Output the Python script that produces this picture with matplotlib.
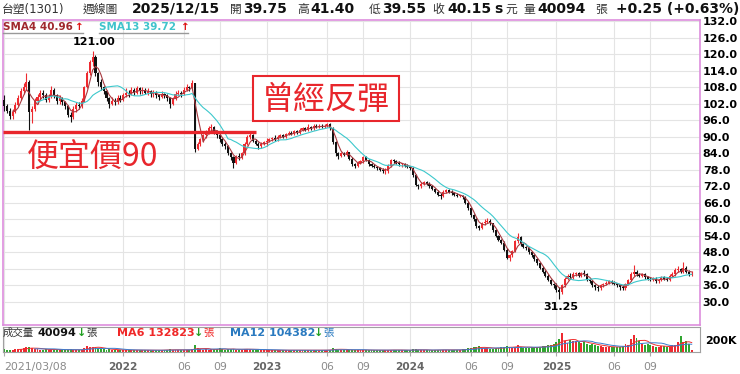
import matplotlib
matplotlib.use("Agg")
import matplotlib.pyplot as plt
import numpy as np
import pandas as pd
from matplotlib.lines import Line2D
from matplotlib.patches import Rectangle

plt.rcParams['font.family'] = ['DejaVu Sans', 'Noto Sans CJK TC']

# weekly candles, 2021/03/08 .. 2025/12/15 (one value per week)
opens = [103.5, 101, 99.5, 97.5, 99, 101.5, 104, 106.5, 108, 110,
         99, 100, 103, 104.5, 106, 105, 103.5, 104.5, 107, 105,
         103, 104, 102.5, 101, 98, 97, 100, 101.5, 101, 103,
         108, 113, 117, 119, 113, 110, 108, 106.5, 104, 102,
         103, 102.5, 104, 103.5, 105, 106, 105.5, 107, 106, 107.5,
         106.5, 107, 106, 106.5, 105.5, 106, 105, 104.5, 105.5, 105,
         104, 102, 104, 105.5, 106, 105.5, 107, 108, 107.5, 109.5,
         85.5, 87.5, 89, 90.5, 92, 93, 93.5, 91.5, 90.5, 89,
         87.5, 86.5, 84, 82.5, 80.5, 83, 82.5, 84, 87.5, 90,
         90.5, 88.5, 87.5, 86.5, 87.5, 88, 88.5, 89, 89.5, 89,
         90, 90.5, 90, 91, 91.5, 91, 92, 91.5, 92.5, 93,
         92.5, 93.5, 93, 94, 93.5, 94, 93.5, 94, 94.5, 93,
         88, 84, 83, 84, 83.5, 84.5, 82, 80, 79.5, 80.5,
         81, 82.5, 81.5, 80, 79.5, 79, 78.5, 78, 77.5, 77.5,
         79.5, 81.5, 81, 80.5, 80, 80, 79.5, 79, 78.5, 76,
         72.5, 72, 73, 73.5, 73, 72, 71, 70, 69, 68.5,
         70, 70.5, 70, 69.5, 69, 68.5, 68.5, 68, 66, 64,
         61.5, 60, 57.5, 57, 58.5, 59, 59.5, 58.5, 56, 54,
         52.5, 51.5, 49, 46, 47, 48.5, 52, 53.5, 51, 50,
         49.5, 48, 47, 45.5, 44, 42.5, 41, 39.5, 38, 36.5,
         36, 34.5, 33.5, 36, 38.5, 39.5, 39, 40, 40.5, 39.5,
         40.5, 40, 38, 37.5, 36, 35.5, 35, 36, 36.5, 37,
         37.5, 37, 36.5, 36, 35.5, 35, 36.5, 38, 40, 41,
         40, 39.5, 40, 39, 38.5, 38, 38.5, 37.5, 38, 39,
         38.5, 38, 39.5, 40, 41.5, 42, 41, 42.5, 41, 39.75]
highs = [105, 102, 100.5, 100, 102.5, 105, 107.5, 109.5, 113, 110.5,
         101, 104, 105.5, 107, 107, 106, 105.5, 108.5, 107.5, 105.5,
         105, 104.5, 103, 101.5, 99, 101, 102.5, 102.5, 104, 108.5,
         114, 118, 121, 119.5, 113.5, 111, 108.5, 107, 104.5, 104.5,
         104, 105, 105, 106, 107.5, 107, 108, 107.5, 108.5, 108,
         108, 107.5, 107.5, 107, 107, 106.5, 105.5, 106.5, 106, 105.5,
         104.5, 104.5, 106.5, 107, 106.5, 108, 109, 108.5, 110.5, 109.5,
         88, 89.5, 91, 92.5, 94, 94.5, 94, 92.5, 91, 89.5,
         88, 87, 84.5, 83, 83.5, 84, 84.5, 88, 90.5, 92,
         91, 89, 88, 88, 88.5, 89.5, 89.5, 90, 90.5, 90.5,
         91, 91, 91.5, 92, 92, 92.5, 92.5, 93, 93.5, 93.5,
         94.5, 94, 94.5, 94.5, 94.5, 94.5, 94.5, 95, 95, 93.5,
         88.5, 84.5, 84.5, 84.5, 85, 84.5, 82.5, 80.5, 81, 81.5,
         83, 83, 82, 80.5, 80, 79.5, 79, 78.5, 78.5, 80,
         82, 82, 81.5, 81, 80.5, 80.5, 80, 79.5, 79, 76.5,
         73, 73.5, 74, 74, 73.5, 72.5, 71.5, 70.5, 69.5, 70.5,
         71, 71, 70.5, 70, 69.5, 69, 69, 68.5, 66.5, 64.5,
         62, 60.5, 58, 59, 60, 60.5, 60, 58.5, 56.5, 54.5,
         53, 52, 49.5, 47.5, 49, 52.5, 55, 54, 51.5, 50.5,
         50, 48.5, 47.5, 46, 44.5, 43, 41.5, 40, 38.5, 37,
         37, 35.5, 36.5, 39, 40, 40.5, 41, 41, 41, 41,
         41.6, 40.5, 38.5, 38, 36.5, 36, 36.5, 37, 37.5, 38,
         38, 37.5, 37, 36.5, 36, 37, 38.5, 41, 43.4, 41.5,
         40.5, 40.5, 40.5, 39.5, 39, 39, 39, 38.5, 39.5, 39.5,
         39, 40, 41, 42.5, 43, 42.5, 44.5, 43, 41.5, 41.4]
lows = [99.5, 98.5, 96.5, 96.5, 98.5, 101, 103.5, 105.5, 107, 92.5,
        95, 99.5, 102, 103.5, 104, 102.5, 102.5, 104, 104, 102,
        102, 101.5, 100, 97, 95.5, 96.5, 99, 100, 100.5, 102.5,
        107.5, 112.5, 115.5, 112, 108.5, 107, 105.5, 103, 100.5, 101.5,
        101.5, 102, 102.5, 103, 104.5, 104.5, 105, 105, 105.5, 105.5,
        105.5, 105.5, 105, 104.5, 104.5, 104, 103.5, 104, 104, 103,
        100.5, 101.5, 103.5, 105, 104.5, 105, 106.5, 106.5, 107, 84.5,
        85, 86.5, 88, 89.5, 91, 92, 91, 89.5, 88, 86.5,
        85.5, 83.5, 81.5, 78.5, 80, 81.5, 82, 83.5, 87, 89,
        88, 87, 85.5, 86, 87, 86.5, 88, 88.5, 88.5, 88.5,
        89.5, 89.5, 89.5, 90.5, 90.5, 90.5, 91, 91, 92, 92,
        92, 92.5, 92.5, 93, 93, 93, 93, 93.5, 92.5, 87.5,
        83, 82, 82.5, 83, 83, 81.5, 79.5, 78.5, 79, 80,
        80.5, 81, 79.5, 79, 78.5, 78, 77.5, 77, 76.5, 77,
        79, 80.5, 80, 79.5, 79, 79, 78.5, 78, 75.5, 72,
        71, 71.5, 72.5, 72.5, 71.5, 70.5, 69.5, 68.5, 67.5, 68,
        69.5, 69.5, 69, 68.5, 68, 68, 67.5, 65.5, 63.5, 61,
        59.5, 57, 56, 56.5, 58, 58.5, 58, 55.5, 53.5, 52,
        51, 48.5, 45.5, 45, 46.5, 48, 51.5, 50.5, 49.5, 49,
        47.5, 46.5, 45, 43.5, 42, 40.5, 39, 37.5, 36, 35,
        33.5, 31.25, 33, 35.5, 38, 38.5, 38.5, 39.5, 39, 39,
        39.5, 37.5, 37, 35.5, 34.5, 34, 34.5, 35.5, 36, 36.5,
        36.5, 36, 35.5, 34.5, 34.5, 34.5, 36, 37.5, 39.5, 39.5,
        39, 39, 38.5, 38, 37.5, 37.5, 37, 37, 37.5, 38,
        37.5, 37.5, 39, 39.5, 41, 40.5, 40.5, 40.5, 39.5, 39.55]
closes = [101, 99.5, 97.5, 99, 101.5, 104, 106.5, 108, 110, 99,
          100, 103, 104.5, 106, 105, 103.5, 104.5, 107, 105, 103,
          104, 102.5, 101, 98, 97, 100, 101.5, 101, 103, 108,
          113, 117, 119, 113, 110, 108, 106.5, 104, 102, 103,
          102.5, 104, 103.5, 105, 106, 105.5, 107, 106, 107.5, 106.5,
          107, 106, 106.5, 105.5, 106, 105, 104.5, 105.5, 105, 104,
          102, 104, 105.5, 106, 105.5, 107, 108, 107.5, 109.5, 85.5,
          87.5, 89, 90.5, 92, 93, 93.5, 91.5, 90.5, 89, 87.5,
          86.5, 84, 82.5, 80.5, 83, 82.5, 84, 87.5, 90, 90.5,
          88.5, 87.5, 86.5, 87.5, 88, 88.5, 89, 89.5, 89, 90,
          90.5, 90, 91, 91.5, 91, 92, 91.5, 92.5, 93, 92.5,
          93.5, 93, 94, 93.5, 94, 93.5, 94, 94.5, 93, 88,
          84, 83, 84, 83.5, 84.5, 82, 80, 79.5, 80.5, 81,
          82.5, 81.5, 80, 79.5, 79, 78.5, 78, 77.5, 77.5, 79.5,
          81.5, 81, 80.5, 80, 80, 79.5, 79, 78.5, 76, 72.5,
          72, 73, 73.5, 73, 72, 71, 70, 69, 68.5, 70,
          70.5, 70, 69.5, 69, 68.5, 68.5, 68, 66, 64, 61.5,
          60, 57.5, 57, 58.5, 59, 59.5, 58.5, 56, 54, 52.5,
          51.5, 49, 46, 47, 48.5, 52, 53.5, 51, 50, 49.5,
          48, 47, 45.5, 44, 42.5, 41, 39.5, 38, 36.5, 36,
          34.5, 33.5, 36, 38.5, 39.5, 39, 40, 40.5, 39.5, 40.5,
          40, 38, 37.5, 36, 35.5, 35, 36, 36.5, 37, 37.5,
          37, 36.5, 36, 35.5, 35, 36.5, 38, 40, 41, 40,
          39.5, 40, 39, 38.5, 38, 38.5, 37.5, 38, 39, 38.5,
          38, 39.5, 40, 41.5, 42, 41, 42.5, 41, 40, 40.15]
# weekly volume, thousand lots
volumes = [45, 35, 40, 38, 42, 50, 55, 60, 75, 80,
           65, 50, 45, 40, 38, 42, 40, 45, 38, 35,
           32, 35, 38, 40, 45, 35, 30, 32, 38, 70,
           95, 85, 90, 75, 60, 50, 45, 40, 45, 38,
           35, 32, 30, 33, 35, 30, 32, 30, 28, 30,
           28, 30, 27, 29, 30, 28, 30, 32, 35, 40,
           45, 38, 32, 30, 32, 35, 38, 35, 45, 115,
           60, 45, 40, 42, 38, 50, 45, 42, 70, 45,
           40, 42, 48, 55, 40, 38, 40, 50, 55, 45,
           40, 35, 33, 30, 32, 30, 28, 30, 32, 30,
           28, 30, 27, 28, 30, 29, 28, 30, 28, 27,
           28, 30, 27, 29, 28, 30, 32, 35, 40, 65,
           55, 40, 35, 32, 30, 35, 38, 32, 30, 33,
           35, 32, 30, 28, 27, 30, 28, 27, 30, 38,
           40, 32, 30, 28, 27, 30, 28, 32, 45, 50,
           35, 30, 28, 27, 30, 32, 35, 38, 40, 35,
           32, 30, 35, 33, 36, 38, 42, 50, 60, 70,
           75, 85, 95, 70, 65, 60, 55, 58, 62, 70,
           75, 85, 95, 80, 70, 90, 110, 80, 70, 65,
           70, 75, 80, 85, 90, 95, 100, 110, 120, 140,
           160, 210, 320, 180, 150, 200, 190, 185, 170, 150,
           160, 130, 120, 140, 110, 100, 95, 90, 85, 80,
           75, 85, 90, 80, 100, 130, 110, 210, 280, 230,
           180, 140, 120, 130, 110, 100, 90, 80, 95, 100,
           85, 90, 110, 120, 160, 265, 170, 175, 130, 40]

tick_weeks = [0, 43, 65, 78, 95, 117, 130, 147, 169, 182, 200, 221, 234]
tick_labels = ['2021/03/08', '2022', '06', '09', '2023', '06', '09',
               '2024', '06', '09', '2025', '06', '09']
year_ticks = ['2022', '2023', '2024', '2025']
price_ticks = np.arange(30, 133, 6)

W, H = 740, 374
RED = '#e8262c'
PINK = '#dd8ddd'

df = pd.DataFrame({'o': opens, 'h': highs, 'l': lows, 'c': closes, 'v': volumes})
x = np.arange(len(df))
up = df['c'] >= df['o']
ccol = np.where(up, '#ee2a30', '#111111')
vcol = np.where(up, '#ee2a30', '#2fa52f')

fig = plt.figure(figsize=(7.4, 3.74), dpi=100)
ax = fig.add_axes([3 / W, 1 - 325 / H, 697 / W, 305 / H])
vax = fig.add_axes([3 / W, 1 - 352 / H, 697 / W, 25 / H])

# price panel
ax.vlines(x, df['l'], df['h'], colors=ccol, lw=0.8, zorder=3)
body = (df['c'] - df['o']).abs().clip(lower=0.35)
ax.bar(x, body, bottom=df[['o', 'c']].min(axis=1), width=0.75, color=ccol, lw=0, zorder=3)
ax.plot(x, df['c'].rolling(4).mean(), color='#a83a40', lw=0.8, zorder=4)
ax.plot(x, df['c'].rolling(13).mean(), color='#3cc8cc', lw=0.8, zorder=4)

ax.set_xlim(-0.5, 252)
ax.set_ylim(21.65, 132.36)
ax.set_yticks(price_ticks)
ax.set_yticklabels(['%.1f' % t for t in price_ticks], fontsize=8, fontweight='bold')
ax.yaxis.tick_right()
ax.tick_params(axis='y', length=0, pad=2)
ax.set_xticks(tick_weeks)
ax.tick_params(axis='x', length=0, labelbottom=False)
ax.grid(True, color='#e4e4e4', lw=0.8)
ax.set_axisbelow(True)
for s in ax.spines.values():
    s.set_color(PINK)
    s.set_linewidth(1.2)

# annotations
ax.plot([-0.5, 91], [91.7, 91.7], color=RED, lw=2.4, zorder=5, solid_capstyle='butt')
ax.text(8, 82.3, '便宜價90', color=RED, fontsize=23, family=['Noto Sans CJK TC'],
        va='center', ha='left', zorder=6)
fig.add_artist(Rectangle((253 / W, 1 - 121 / H), 146 / W, 45 / H, transform=fig.transFigure,
                         fill=True, fc='white', ec=RED, lw=1.5, zorder=5))
fig.text(326 / W, 1 - 100 / H, '曾經反彈', color=RED, fontsize=23, family=['Noto Sans CJK TC'],
         ha='center', va='center', zorder=6)
ax.text(df['h'].idxmax() + 0.5, df['h'].max() + 1.4, '%.2f' % df['h'].max(),
        fontsize=8, fontweight='bold', ha='center', va='bottom')
ax.text(df['l'].idxmin() + 0.5, df['l'].min() - 1.2, '%.2f' % df['l'].min(),
        fontsize=8, fontweight='bold', ha='center', va='top')

# volume panel
vax.bar(x, df['v'], width=0.7, color=vcol, lw=0)
vax.plot(x, df['v'].rolling(6).mean(), color='#f03030', lw=0.7)
vax.plot(x, df['v'].rolling(12).mean(), color='#3a7fd0', lw=0.7)
vax.set_xlim(-0.5, 252)
vax.set_ylim(0, 415)
vax.set_yticks([200])
vax.set_yticklabels(['200K'], fontsize=8, fontweight='bold')
vax.yaxis.tick_right()
vax.tick_params(axis='y', length=0, pad=4)
vax.set_xticks(tick_weeks)
vax.set_xticklabels(tick_labels, fontsize=7.8, color='#8a8a8a')
vax.tick_params(axis='x', length=3, color='#aaaaaa', pad=4)
for lab in vax.get_xticklabels():
    if lab.get_text() in year_ticks:
        lab.set_fontweight('bold')
        lab.set_color('#666666')
        lab.set_fontsize(7.6)
vax.get_xticklabels()[0].set_ha('left')
vax.grid(True, axis='x', color='#e4e4e4', lw=0.8)
vax.set_axisbelow(True)
for s in vax.spines.values():
    s.set_color('#a0a0a0')
    s.set_linewidth(0.8)


def put(px, py, s, size=8, color='#222222', weight='normal', ha='left'):
    fig.text(px / W, 1 - py / H, s, fontsize=size, color=color, fontweight=weight,
             ha=ha, va='center')


# header row
put(2, 9, '台塑(1301)', 8.5, '#333333')
put(83, 9, '週線圖', 8.5, '#333333')
put(132, 9, '2025/12/15', 10, '#111111', 'bold')
put(230, 9, '開', 8.5, '#333333')
put(243, 9, '39.75', 10, '#111111', 'bold')
put(297, 9, '高', 8.5, '#333333')
put(310, 9, '41.40', 10, '#111111', 'bold')
put(369, 9, '低', 8.5, '#333333')
put(382, 9, '39.55', 10, '#111111', 'bold')
put(432, 9, '收', 8.5, '#333333')
put(447, 9, '40.15', 10, '#111111', 'bold')
put(494, 9, 's', 10, '#111111', 'bold')
put(505, 9, '元', 8.5, '#333333')
put(523, 9, '量', 8.5, '#333333')
put(537, 9, '40094', 10, '#111111', 'bold')
put(595, 9, '張', 8.5, '#333333')
put(616, 9, '+0.25 (+0.63%)', 10, '#111111', 'bold')

# moving average labels
put(3, 27, 'SMA4 40.96', 7.5, '#a0282d', 'bold')
put(75, 27, '↑', 7.5, '#e01010', 'bold')
put(99, 27, 'SMA13 39.72', 7.5, '#40c4cc', 'bold')
put(181, 27, '↑', 7.5, '#e01010', 'bold')
for x0, x1 in [(3, 83), (99, 188)]:
    fig.add_artist(Line2D([x0 / W, x1 / W], [1 - 33 / H, 1 - 33 / H], color='#999999', lw=1.0))

# volume labels
put(3, 333, '成交量', 7.5, '#333333')
put(37, 333, '40094', 8, '#111111', 'bold')
put(77, 333, '↓', 8, '#22a022', 'bold')
put(86, 333, '張', 7.5, '#333333')
put(117, 333, 'MA6 132823', 8, '#f02828', 'bold')
put(194, 333, '↓', 8, '#22a022', 'bold')
put(203, 333, '張', 7.5, '#f02828')
put(230, 333, 'MA12 104382', 8, '#2a7ac0', 'bold')
put(314, 333, '↓', 8, '#22a022', 'bold')
put(323, 333, '張', 7.5, '#2a7ac0')

fig.savefig('out.png', dpi=100)
